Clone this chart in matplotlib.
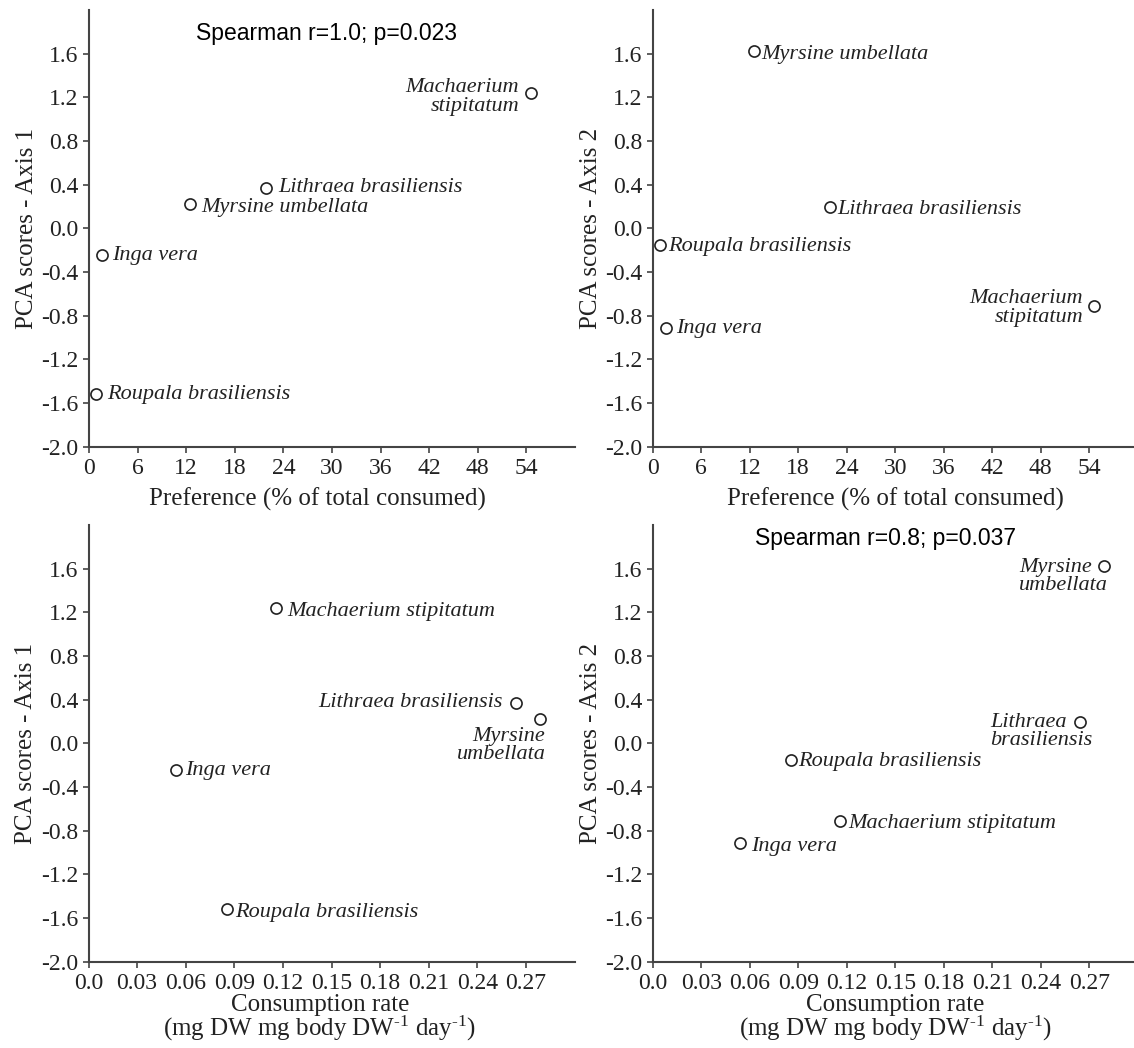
import numpy as np
import matplotlib
matplotlib.use('Agg')
import matplotlib.pyplot as plt

plt.rcParams['font.family'] = ['Liberation Serif', 'DejaVu Serif']
plt.rcParams['mathtext.fontset'] = 'custom'
plt.rcParams['mathtext.rm'] = 'Liberation Serif'
plt.rcParams['mathtext.it'] = 'Liberation Serif:italic'

# Food plants and their scores
species = ['Machaerium stipitatum', 'Lithraea brasiliensis', 'Myrsine umbellata',
           'Inga vera', 'Roupala brasiliensis']
preference = [54.6, 21.9, 12.5, 1.6, 0.9]            # % of total consumed
consumption = [0.116, 0.264, 0.279, 0.054, 0.0855]   # mg DW mg body DW-1 day-1
pca_axis1 = [1.24, 0.37, 0.22, -0.24, -1.52]
pca_axis2 = [-0.71, 0.20, 1.62, -0.915, -0.155]

pref_ticks = [0, 6, 12, 18, 24, 30, 36, 42, 48, 54]
rate_ticks = [0.0, 0.03, 0.06, 0.09, 0.12, 0.15, 0.18, 0.21, 0.24, 0.27]
rate_ticklabels = ['0.0', '0.03', '0.06', '0.09', '0.12', '0.15', '0.18', '0.21', '0.24', '0.27']
pca_ticks = [-2.0, -1.6, -1.2, -0.8, -0.4, 0.0, 0.4, 0.8, 1.2, 1.6]

spearman_pref = 'Spearman r=1.0; p=0.023'
spearman_rate = 'Spearman r=0.8; p=0.037'

pref_label = 'Preference (% of total consumed)'
rate_label = 'Consumption rate\n(mg DW mg body DW$^{\u2010\\rm 1}$ day$^{\u2010\\rm 1}$)'

INK = '#222222'
W, H = 1134, 1048

# label placement per panel: dx, dy in pixels (dy positive = down), ha, multialign, text
def place(dx, dy, ha='left', ma='left', text=None):
    return dict(dx=dx, dy=dy, ha=ha, ma=ma, text=text)

panels = [
    dict(rect=(89, 10, 486), x=preference, y=pca_axis1, xlim=60, xticks=pref_ticks,
         xticklabels=[str(t) for t in pref_ticks], xlabel=pref_label, xlab_xy=(0.47, -0.093),
         ylabel='PCA scores - Axis 1', note=spearman_pref, note_xy=(0.488, 0.947),
         labels={
             'Machaerium stipitatum': place(-12, 4, 'right', 'right', 'Machaerium\nstipitatum'),
             'Lithraea brasiliensis': place(12, 0),
             'Myrsine umbellata': place(11, 3),
             'Inga vera': place(10, 1),
             'Roupala brasiliensis': place(11, 0),
         }),
    dict(rect=(652.7, 10, 485), x=preference, y=pca_axis2, xlim=60, xticks=pref_ticks,
         xticklabels=[str(t) for t in pref_ticks], xlabel=pref_label, xlab_xy=(0.5, -0.093),
         ylabel='PCA scores - Axis 2', note=None, note_xy=None,
         labels={
             'Machaerium stipitatum': place(-11, 2, 'right', 'right', 'Machaerium\nstipitatum'),
             'Lithraea brasiliensis': place(8, 3),
             'Myrsine umbellata': place(8, 3),
             'Inga vera': place(10, 0),
             'Roupala brasiliensis': place(8, 1),
         }),
    dict(rect=(88.5, 525, 486), x=consumption, y=pca_axis1, xlim=0.30, xticks=rate_ticks,
         xticklabels=rate_ticklabels, xlabel=rate_label, xlab_xy=(0.476, -0.074),
         ylabel='PCA scores - Axis 1', note=None, note_xy=None,
         labels={
             'Machaerium stipitatum': place(11, 4),
             'Lithraea brasiliensis': place(-14, 0, 'right', 'right'),
             'Myrsine umbellata': place(5, 26, 'right', 'right', 'Myrsine\numbellata'),
             'Inga vera': place(9, 1),
             'Roupala brasiliensis': place(8, 3),
         }),
    dict(rect=(652.7, 525, 485), x=consumption, y=pca_axis2, xlim=0.30, xticks=rate_ticks,
         xticklabels=rate_ticklabels, xlabel=rate_label, xlab_xy=(0.5, -0.074),
         ylabel='PCA scores - Axis 2', note=spearman_rate, note_xy=(0.48, 0.97),
         labels={
             'Machaerium stipitatum': place(8, 3),
             'Lithraea brasiliensis': place(13, 10, 'right', 'left', 'Lithraea\nbrasiliensis'),
             'Myrsine umbellata': place(4, 10, 'right', 'left', 'Myrsine\numbellata'),
             'Inga vera': place(11, 3),
             'Roupala brasiliensis': place(7, 1),
         }),
]

fig = plt.figure(figsize=(W / 100, H / 100), dpi=100)
px2pt = 72 / 100

for p in panels:
    left, top, width = p['rect']
    height = 436.7
    ax = fig.add_axes([left / W, 1 - (top + height) / H, width / W, height / H])

    ax.plot(p['x'], p['y'], 'o', ms=8, mfc='white', mec=INK, mew=1.2, ls='none', clip_on=False)

    for name, xv, yv in zip(species, p['x'], p['y']):
        lab = p['labels'][name]
        ax.annotate(lab['text'] or name, (xv, yv),
                    xytext=(lab['dx'] * px2pt, -lab['dy'] * px2pt), textcoords='offset points',
                    ha=lab['ha'], va='center', multialignment=lab['ma'],
                    fontsize=16, style='italic', color=INK, linespacing=0.95)

    if p['note']:
        ax.text(*p['note_xy'], p['note'], transform=ax.transAxes, ha='center', va='center',
                fontsize=16.5, family=['Liberation Sans', 'DejaVu Sans'], color='black')

    ax.set_xlim(0, p['xlim'])
    ax.set_ylim(-2.0, 2.0)
    ax.set_xticks(p['xticks'])
    ax.set_xticklabels(p['xticklabels'])
    ax.set_yticks(pca_ticks)
    ax.set_yticklabels(['%.1f' % t for t in pca_ticks])

    for side in ('top', 'right'):
        ax.spines[side].set_visible(False)
    for side in ('left', 'bottom'):
        ax.spines[side].set_color('#444444')
        ax.spines[side].set_linewidth(1.5)
    ax.tick_params(direction='out', length=4.5, width=1.2, color='#444444',
                   labelsize=17, labelcolor=INK)
    ax.tick_params(axis='x', pad=3.5)
    ax.tick_params(axis='y', pad=3)

    ax.set_xlabel(p['xlabel'], fontsize=18, color=INK, linespacing=0.9)
    ax.xaxis.set_label_coords(*p['xlab_xy'])
    ax.set_ylabel(p['ylabel'], fontsize=18, color=INK)
    ax.yaxis.set_label_coords(-0.105, 0.5)

fig.savefig('out.png', dpi=100, facecolor='white')
